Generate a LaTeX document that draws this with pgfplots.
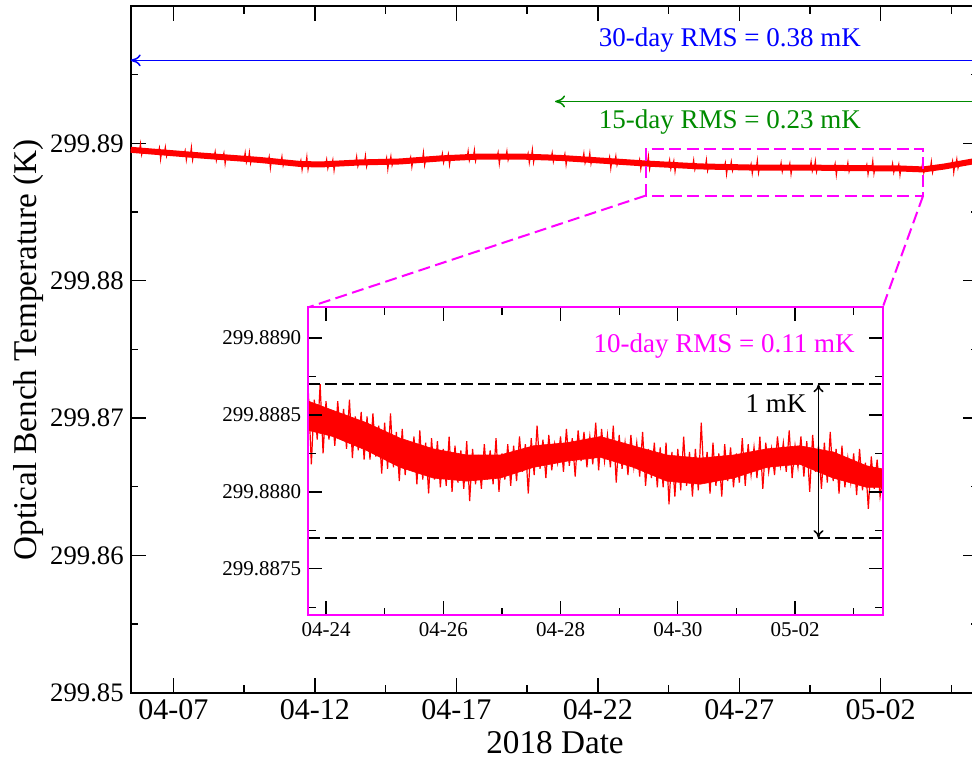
\documentclass[border=0pt]{standalone}
\usepackage{pgfplots}
\pgfplotsset{compat=1.18}
\usepackage{fontspec}
\setmainfont{Liberation Serif}
\usetikzlibrary{arrows.meta,calc}
\definecolor{xgreen}{RGB}{0,139,0}
\definecolor{xmag}{RGB}{255,0,255}
\definecolor{xblue}{RGB}{0,0,255}
\definecolor{xred}{RGB}{255,0,0}
% y values: temperature minus 299.88 K, in mK
\begin{document}
\begin{tikzpicture}
\begin{axis}[name=main, at={(0,0)}, anchor=south west,
  scale only axis, width=423.65pt, height=343.35pt,
  xmin=5.494, xmax=35.438, ymin=-30, ymax=20,
  axis line style={line width=1pt},
  tick style={black, line width=0.75pt},
  major tick length=7.5pt, minor tick length=3.75pt,
  xtick={7,12,17,22,27,32}, xticklabels={04-07,04-12,04-17,04-22,04-27,05-02},
  minor xtick={9.5,14.5,19.5,24.5,29.5,34.5},
  ytick={-30,-20,-10,0,10}, yticklabels={299.85,299.86,299.87,299.88,299.89},
  minor ytick={-25,-15,-5,5,15},
  xticklabel style={font=\fontsize{15pt}{18pt}\selectfont},
  yticklabel style={font=\fontsize{13.35pt}{16pt}\selectfont},
  xlabel={2018 Date}, ylabel={Optical Bench Temperature (K)},
  label style={font=\fontsize{16.6pt}{20pt}\selectfont},
  xlabel style={at={(axis description cs:0.5008,-0.0878)}, anchor=base},
  ylabel style={at={(axis description cs:-0.1106,0.499)}, anchor=base, rotate=0},
  clip=true]
\addplot[xred, line width=3pt, line join=round] coordinates {(5.494,9.53) (7.94,9.12) (10.06,8.79) (11.48,8.50) (12.18,8.46) (13.60,8.61) (15.01,8.68) (16.43,8.90) (17.84,9.04) (19.25,9.04) (20.67,8.94) (22.08,8.75) (23.71,8.53) (25.61,8.32) (27.38,8.24) (29.15,8.24) (30.92,8.20) (32.68,8.17) (33.50,8.10) (34.27,8.32) (35.44,8.75)};
\addplot[xred, line width=0.45pt] coordinates {
(5.494,9.53) (5.80,9.48)(5.84,10.03)(5.88,9.13)(5.92,9.48)
(6.47,9.37)(6.51,9.72)(6.55,8.77)(6.59,9.37)
(6.68,9.33)(6.72,9.78)(6.76,9.03)(6.80,9.33)
(7.38,9.22)(7.42,9.52)(7.46,8.72)(7.50,9.22)
(7.60,9.18)(7.64,9.78)(7.68,8.73)(7.72,9.18)
(8.44,9.04)(8.48,9.44)(8.52,8.69)(8.56,9.04)
(8.75,8.99)(8.79,9.34)(8.83,8.44)(8.87,8.99)
(9.50,8.87)(9.54,9.37)(9.58,8.57)(9.62,8.87)
(9.65,8.85)(9.69,9.40)(9.73,8.50)(9.77,8.85)
(10.35,8.73)(10.39,9.08)(10.43,8.13)(10.47,8.73)
(10.80,8.64)(10.84,9.09)(10.88,8.34)(10.92,8.64)
(11.47,8.50)(11.51,8.80)(11.55,8.00)(11.59,8.50)
(11.68,8.49)(11.72,9.09)(11.76,8.04)(11.80,8.49)
(12.38,8.48)(12.42,8.88)(12.46,8.13)(12.50,8.48)
(12.60,8.51)(12.64,8.86)(12.68,7.96)(12.72,8.51)
(13.44,8.59)(13.48,9.09)(13.52,8.29)(13.56,8.59)
(13.75,8.61)(13.79,9.16)(13.83,8.26)(13.87,8.61)
(14.50,8.65)(14.54,9.00)(14.58,8.05)(14.62,8.65)
(14.65,8.66)(14.69,9.11)(14.73,8.36)(14.77,8.66)
(15.35,8.73)(15.39,9.03)(15.43,8.23)(15.47,8.73)
(15.80,8.80)(15.84,9.40)(15.88,8.35)(15.92,8.80)
(16.47,8.90)(16.51,9.30)(16.55,8.55)(16.59,8.90)
(16.68,8.92)(16.72,9.27)(16.76,8.37)(16.80,8.92)
(17.38,9.00)(17.42,9.50)(17.46,8.70)(17.50,9.00)
(17.60,9.02)(17.64,9.57)(17.68,8.67)(17.72,9.02)
(18.44,9.04)(18.48,9.39)(18.52,8.44)(18.56,9.04)
(18.75,9.04)(18.79,9.49)(18.83,8.74)(18.87,9.04)
(19.50,9.02)(19.54,9.32)(19.58,8.52)(19.62,9.02)
(19.65,9.01)(19.69,9.61)(19.73,8.56)(19.77,9.01)
(20.35,8.96)(20.39,9.36)(20.43,8.61)(20.47,8.96)
(20.80,8.92)(20.84,9.27)(20.88,8.37)(20.92,8.92)
(21.47,8.83)(21.51,9.33)(21.55,8.53)(21.59,8.83)
(21.68,8.81)(21.72,9.36)(21.76,8.46)(21.80,8.81)
(22.38,8.71)(22.42,9.06)(22.46,8.11)(22.50,8.71)
(22.60,8.68)(22.64,9.13)(22.68,8.38)(22.72,8.68)
(23.44,8.57)(23.48,8.87)(23.52,8.07)(23.56,8.57)
(23.75,8.53)(23.79,9.13)(23.83,8.08)(23.87,8.53)
(24.50,8.44)(24.54,8.84)(24.58,8.09)(24.62,8.44)
(24.65,8.43)(24.69,8.78)(24.73,7.88)(24.77,8.43)
(25.35,8.34)(25.39,8.84)(25.43,8.04)(25.47,8.34)
(25.80,8.31)(25.84,8.86)(25.88,7.96)(25.92,8.31)
(26.47,8.28)(26.51,8.63)(26.55,7.68)(26.59,8.28)
(26.68,8.27)(26.72,8.72)(26.76,7.97)(26.80,8.27)
(27.38,8.24)(27.42,8.54)(27.46,7.74)(27.50,8.24)
(27.60,8.24)(27.64,8.84)(27.68,7.79)(27.72,8.24)
(28.44,8.24)(28.48,8.64)(28.52,7.89)(28.56,8.24)
(28.75,8.24)(28.79,8.59)(28.83,7.69)(28.87,8.24)
(29.50,8.23)(29.54,8.73)(29.58,7.93)(29.62,8.23)
(29.65,8.23)(29.69,8.78)(29.73,7.88)(29.77,8.23)
(30.35,8.22)(30.39,8.57)(30.43,7.62)(30.47,8.22)
(30.80,8.20)(30.84,8.65)(30.88,7.90)(30.92,8.20)
(31.47,8.19)(31.51,8.49)(31.55,7.69)(31.59,8.19)
(31.68,8.19)(31.72,8.79)(31.76,7.74)(31.80,8.19)
(32.38,8.18)(32.42,8.58)(32.46,7.83)(32.50,8.18)
(32.60,8.17)(32.64,8.52)(32.68,7.62)(32.72,8.17)
(33.44,8.11)(33.48,8.61)(33.52,7.81)(33.56,8.11)
(33.75,8.18)(33.79,8.73)(33.83,7.83)(33.87,8.18)
(34.50,8.41)(34.54,8.76)(34.58,7.81)(34.62,8.41)
(34.65,8.46)(34.69,8.91)(34.73,8.16)(34.77,8.46) (35.44,8.75)};
\draw[xblue, line width=0.75pt, {To[length=5pt,width=6pt]}-] (axis cs:5.494,16.04) -- (axis cs:35.44,16.04);
\draw[xgreen, line width=0.75pt, {To[length=5pt,width=6pt]}-] (axis cs:20.49,13.05) -- (axis cs:35.44,13.05);
\node[xblue, anchor=base, font=\fontsize{13.5pt}{16pt}\selectfont] at (axis cs:26.67,17.04) {30-day RMS = 0.38 mK};
\node[xgreen, anchor=base, font=\fontsize{13.5pt}{16pt}\selectfont] at (axis cs:26.67,11.06) {15-day RMS = 0.23 mK};
\draw[xmag, line width=1pt, dash pattern=on 6pt off 2.75pt] (axis cs:23.70,6.20) rectangle (axis cs:33.50,9.61);
\coordinate (rBL) at (axis cs:23.70,6.20);
\coordinate (rBR) at (axis cs:33.50,6.20);
\end{axis}
\begin{axis}[name=inset, at={($(main.south west)+(88.8pt,38.85pt)$)}, anchor=south west,
  scale only axis, width=287.2pt, height=153.85pt,
  xmin=23.698, xmax=33.495, ymin=7.2, ymax=9.2,
  axis line style={xmag, line width=1pt},
  tick style={black, line width=0.6pt},
  major tick length=7pt, minor tick length=3.75pt,
  xtick={24,26,28,30,32}, xticklabels={04-24,04-26,04-28,04-30,05-02},
  minor xtick={25,27,29,31,33},
  ytick={7.5,8,8.5,9}, yticklabels={299.8875,299.8880,299.8885,299.8890},
  minor ytick={7.25,7.75,8.25,8.75},
  ticklabel style={font=\fontsize{10.5pt}{12pt}\selectfont},
  axis background/.style={fill=white}, axis on top, clip=false]
\addplot[xred, fill=xred, line width=0.3pt] coordinates {(23.70,8.59) (24.12,8.53) (24.69,8.45) (25.26,8.35) (25.83,8.28) (26.40,8.24) (26.97,8.24) (27.54,8.30) (28.11,8.32) (28.68,8.36) (29.24,8.30) (29.81,8.24) (30.38,8.22) (30.95,8.24) (31.52,8.28) (32.08,8.30) (32.65,8.26) (33.22,8.17) (33.49,8.15) (33.49,8.03) (33.22,8.03) (32.65,8.09) (32.08,8.18) (31.52,8.16) (30.95,8.09) (30.38,8.05) (29.81,8.07) (29.24,8.16) (28.68,8.225) (28.11,8.20) (27.54,8.16) (26.97,8.09) (26.40,8.07) (25.83,8.09) (25.26,8.16) (24.69,8.27) (24.12,8.36) (23.70,8.40)} -- cycle;
\addplot[xred, line width=0.6pt] coordinates {
(23.70,8.64) (23.75,8.18) (23.80,8.60) (23.85,8.34) (23.90,8.70) (23.95,8.25) (24.00,8.59) (24.05,8.34) (24.10,8.53) (24.15,8.30)
(24.20,8.59) (24.25,8.34) (24.30,8.54) (24.35,8.28) (24.40,8.60) (24.45,8.22) (24.50,8.49) (24.55,8.27) (24.60,8.52) (24.65,8.21)
(24.70,8.49) (24.75,8.21) (24.80,8.51) (24.85,8.23) (24.90,8.43) (24.95,8.12) (25.00,8.45) (25.05,8.15) (25.10,8.51) (25.15,8.16)
(25.20,8.39) (25.25,8.07) (25.30,8.41) (25.35,8.11) (25.40,8.33) (25.45,8.14) (25.50,8.36) (25.55,8.05) (25.60,8.40) (25.65,8.08)
(25.70,8.32) (25.75,7.99) (25.80,8.35) (25.85,8.08) (25.90,8.33) (25.95,8.03) (26.00,8.28) (26.05,8.04) (26.10,8.36) (26.15,8.00)
(26.20,8.30) (26.25,8.06) (26.30,8.27) (26.35,8.02) (26.40,8.33) (26.45,7.94) (26.50,8.28) (26.55,8.05) (26.60,8.24) (26.65,8.02)
(26.70,8.31) (26.75,8.08) (26.80,8.27) (26.85,8.05) (26.90,8.35) (26.95,8.00) (27.00,8.25) (27.05,8.08) (27.10,8.31) (27.15,8.04)
(27.20,8.30) (27.25,8.07) (27.30,8.36) (27.35,8.13) (27.40,8.31) (27.45,7.99) (27.50,8.35) (27.55,8.11) (27.60,8.43) (27.65,8.15)
(27.70,8.34) (27.75,8.09) (27.80,8.37) (27.85,8.14) (27.90,8.31) (27.95,8.19) (28.00,8.36) (28.05,8.13) (28.10,8.41) (28.15,8.17)
(28.20,8.35) (28.25,8.10) (28.30,8.40) (28.35,8.20) (28.40,8.39) (28.45,8.16) (28.50,8.36) (28.55,8.18) (28.60,8.45) (28.65,8.14)
(28.70,8.41) (28.75,8.20) (28.80,8.37) (28.85,8.16) (28.90,8.43) (28.95,8.06) (29.00,8.37) (29.05,8.15) (29.10,8.32) (29.15,8.11)
(29.20,8.37) (29.25,8.16) (29.30,8.32) (29.35,8.10) (29.40,8.39) (29.45,8.04) (29.50,8.28) (29.55,8.09) (29.60,8.32) (29.65,8.03)
(29.70,8.29) (29.75,8.03) (29.80,8.32) (29.85,7.92) (29.90,8.26) (29.95,7.97) (30.00,8.28) (30.05,8.01) (30.10,8.36) (30.15,8.04)
(30.20,8.26) (30.25,7.97) (30.30,8.28) (30.35,8.01) (30.40,8.45) (30.45,8.06) (30.50,8.26) (30.55,7.99) (30.60,8.32) (30.65,8.04)
(30.70,8.25) (30.75,7.97) (30.80,8.31) (30.85,8.07) (30.90,8.29) (30.95,8.03) (31.00,8.25) (31.05,8.06) (31.10,8.35) (31.15,8.04)
(31.20,8.31) (31.25,8.11) (31.30,8.29) (31.35,8.09) (31.40,8.36) (31.45,8.02) (31.50,8.32) (31.55,8.13) (31.60,8.28) (31.65,8.11)
(31.70,8.36) (31.75,8.17) (31.80,8.32) (31.85,8.13) (31.90,8.40) (31.95,8.09) (32.00,8.30) (32.05,8.16) (32.10,8.36) (32.15,8.10)
(32.20,8.33) (32.25,8.00) (32.30,8.37) (32.35,8.13) (32.40,8.30) (32.45,8.02) (32.50,8.32) (32.55,8.06) (32.60,8.39) (32.65,8.07)
(32.70,8.28) (32.75,7.99) (32.80,8.30) (32.85,8.03) (32.90,8.22) (32.95,8.06) (33.00,8.25) (33.05,7.98) (33.10,8.28) (33.15,8.01)
(33.20,8.19) (33.25,7.89) (33.30,8.23) (33.35,8.02) (33.40,8.21) (33.45,7.97) (33.49,8.08)};
\draw[black, line width=0.9pt, dash pattern=on 6pt off 2.5pt] (axis cs:23.698,8.7) -- (axis cs:33.495,8.7);
\draw[black, line width=0.9pt, dash pattern=on 6pt off 2.5pt] (axis cs:23.698,7.7) -- (axis cs:33.495,7.7);
\draw[black, line width=0.75pt, {To[length=4pt,width=5pt]}-{To[length=4pt,width=5pt]}] (axis cs:32.40,7.7) -- (axis cs:32.40,8.7);
\node[black, anchor=base east, inner sep=0pt, font=\fontsize{13.5pt}{16pt}\selectfont] at (axis cs:32.20,8.517) {1 mK};
\node[xmag, anchor=base, font=\fontsize{13.5pt}{16pt}\selectfont] at (axis cs:30.79,8.906) {10-day RMS = 0.11 mK};
\end{axis}
\draw[xmag, line width=1pt, dash pattern=on 6pt off 2.75pt] (rBL) -- (inset.north west);
\draw[xmag, line width=1pt, dash pattern=on 6pt off 2.75pt] (rBR) -- (inset.north east);
\pgfresetboundingbox
\path[use as bounding box] ($(main.south west)+(-65.35pt,-34.15pt)$) rectangle ($(main.south west)+(420.65pt,346.35pt)$);
\end{tikzpicture}
\end{document}
